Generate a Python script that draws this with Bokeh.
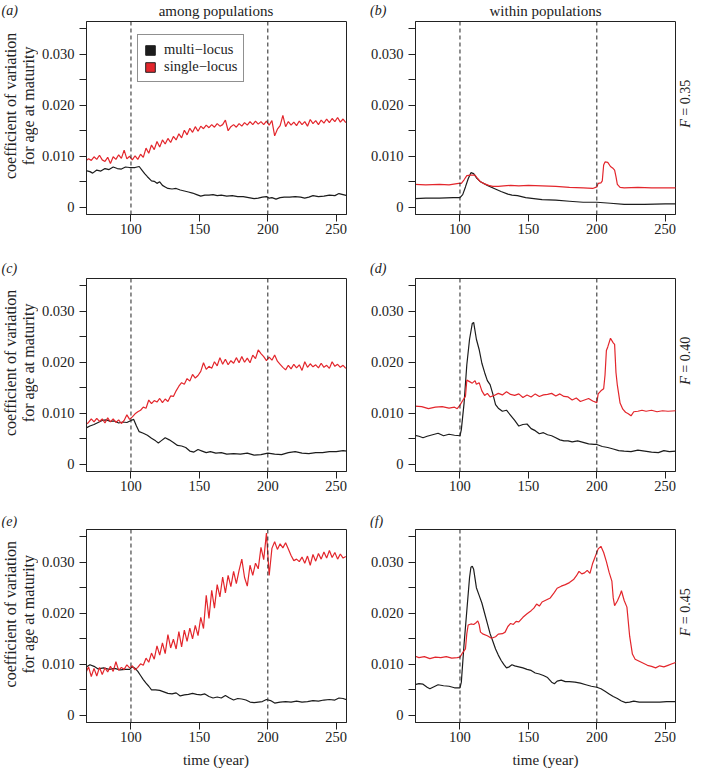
import numpy as np
from math import pi
from bokeh.plotting import figure
from bokeh.layouts import column, row
from bokeh.models import (Range1d, FixedTicker, Span, Label, Legend, LegendItem,
                          CustomJSTickFormatter)
from bokeh.embed import file_html
from bokeh.resources import INLINE
from bokeh.core.validation import silence
from bokeh.core.validation.warnings import MISSING_RENDERERS

silence(MISSING_RENDERERS, True)

# ---------------- data (coefficient of variation, in units of 0.001) ----------------
years_grid = list(range(67, 258, 2))   # sampling grid for the jagged single-locus series

# (a) among populations, F = 0.35
a_single = [9.1, 9.5, 9.2, 9.9, 9.4, 10.2, 9.3, 9.0, 9.8, 8.6,
            9.9, 9.4, 10.3, 9.6, 11.2, 9.5, 10.0, 9.3, 10.1, 9.4,
            10.4, 9.8, 11.6, 10.6, 12.2, 11.3, 12.9, 11.8, 13.2, 12.4,
            13.5, 12.7, 13.9, 13.2, 14.4, 13.6, 15.1, 14.2, 15.5, 14.7,
            15.8, 14.9, 15.9, 15.4, 16.1, 15.6, 16.2, 15.7, 16.4, 15.9,
            16.2, 17.1, 15.0, 15.8, 16.2, 15.7, 16.4, 15.9, 16.6, 16.1,
            16.8, 16.2, 16.9, 16.3, 16.8, 16.2, 16.9, 16.1, 17.0, 14.0,
            15.3, 16.0, 18.0, 15.8, 16.8, 16.1, 16.7, 16.0, 16.9, 16.2,
            16.8, 15.9, 17.2, 16.4, 17.0, 16.2, 17.1, 16.5, 17.3, 16.6,
            17.4, 16.8, 17.6, 16.7, 17.3, 16.6]
a_multi = [(67, 7.2), (70, 7.0), (72, 6.7), (75, 7.3), (78, 7.1), (81, 7.6), (84, 7.4),
           (87, 7.9), (90, 7.6), (93, 7.5), (96, 7.9), (99, 7.8), (103, 7.8), (106, 8.0),
           (108, 7.3), (110, 6.6), (112, 6.0), (115, 5.2), (117, 5.1), (119, 4.7), (121, 5.0),
           (123, 4.3), (125, 4.0), (127, 3.7), (130, 3.6), (133, 3.7), (136, 3.4), (139, 3.2),
           (142, 3.0), (145, 2.8), (148, 2.5), (151, 2.2), (154, 2.4), (157, 2.4), (160, 2.5),
           (163, 2.3), (166, 2.4), (170, 2.2), (174, 2.3), (178, 2.1), (182, 2.1), (186, 1.9),
           (190, 1.7), (193, 1.8), (196, 2.0), (199, 2.1), (201, 1.8), (203, 1.9), (206, 1.6),
           (209, 1.9), (212, 2.0), (216, 2.0), (220, 2.1), (224, 2.0), (227, 1.8), (230, 2.0),
           (233, 2.3), (237, 2.1), (241, 2.2), (245, 2.4), (249, 2.3), (252, 2.7), (255, 2.5),
           (258, 2.3)]

# (b) within populations, F = 0.35
b_single = [(67, 4.5), (75, 4.4), (85, 4.5), (92, 4.4), (99, 4.7), (101, 4.7), (103, 5.4),
            (105, 6.2), (108, 6.3), (111, 6.3), (113, 5.6), (115, 5.0), (118, 4.6), (121, 4.3),
            (124, 4.1), (128, 4.1), (132, 4.2), (137, 4.3), (143, 4.2), (150, 4.3), (160, 4.2),
            (170, 4.1), (180, 3.9), (190, 3.8), (197, 3.7), (200, 4.0), (201, 4.7), (203, 4.8),
            (204, 5.2), (205, 8.3), (206, 8.9), (208, 8.8), (210, 8.0), (212, 7.6), (213, 7.3),
            (214, 6.0), (215, 4.5), (217, 3.9), (220, 3.8), (230, 3.9), (240, 3.8), (250, 3.8),
            (258, 3.8)]
b_multi = [(67, 1.7), (75, 1.8), (85, 1.8), (95, 1.9), (100, 1.9), (102, 2.5), (104, 4.0),
           (106, 5.6), (108, 6.8), (110, 6.6), (112, 5.8), (115, 5.0), (120, 4.3), (125, 3.7),
           (130, 3.1), (135, 2.6), (138, 2.4), (142, 2.3), (148, 1.9), (160, 1.5), (170, 1.4),
           (180, 1.2), (190, 1.0), (200, 1.0), (210, 0.8), (220, 0.6), (235, 0.6), (250, 0.7),
           (258, 0.7)]

# (c) among populations, F = 0.40
c_single = [7.8, 8.2, 8.9, 8.3, 9.0, 8.4, 8.9, 8.1, 9.1, 8.3,
            8.9, 8.2, 8.7, 8.0, 8.6, 9.7, 8.8, 9.3, 9.9, 10.3,
            10.6, 11.2, 11.0, 12.6, 11.9, 12.5, 12.2, 12.9, 12.1, 12.8,
            12.3, 13.4, 13.3, 14.4, 15.3, 16.0, 15.7, 16.8, 16.3, 17.6,
            16.9, 17.4, 18.2, 19.9, 18.6, 19.2, 18.8, 20.1, 19.3, 20.9,
            19.6, 20.6, 19.5, 20.3, 19.8, 20.9, 19.9, 21.1, 20.0, 20.8,
            19.9, 21.4, 20.7, 22.4, 21.7, 21.1, 20.3, 21.0, 20.4, 21.4,
            20.2, 19.6, 19.0, 18.5, 19.4, 18.7, 19.6, 18.9, 19.5, 18.4,
            20.1, 19.0, 19.7, 19.1, 19.5, 18.9, 19.8, 19.0, 19.4, 18.8,
            20.1, 19.2, 19.6, 19.0, 19.4, 18.8]
c_multi = [(67, 7.1), (70, 7.5), (73, 7.8), (76, 8.2), (79, 8.6), (82, 8.7), (85, 8.4),
           (88, 8.5), (91, 8.1), (94, 8.3), (97, 8.2), (100, 8.6), (102, 8.8), (104, 7.5),
           (106, 6.4), (109, 6.1), (112, 5.7), (115, 5.1), (118, 4.6), (120, 4.2), (122, 4.6),
           (125, 5.2), (128, 4.8), (131, 4.3), (134, 3.7), (137, 3.6), (140, 3.3), (143, 2.6),
           (146, 2.4), (149, 2.9), (152, 2.6), (155, 2.3), (158, 2.5), (162, 2.2), (166, 2.3),
           (170, 2.0), (175, 2.1), (180, 2.0), (185, 2.2), (190, 1.8), (195, 1.9), (200, 2.2),
           (205, 2.0), (210, 1.9), (215, 2.3), (220, 2.5), (225, 2.2), (230, 2.1), (235, 2.3),
           (240, 2.3), (245, 2.5), (250, 2.5), (255, 2.7), (258, 2.6)]

# (d) within populations, F = 0.40
d_single = [(67, 11.4), (72, 11.3), (77, 10.9), (82, 11.2), (87, 11.3), (92, 11.0), (96, 11.2),
            (98, 10.9), (100, 11.6), (102, 12.5), (104, 13.3), (105, 16.5), (107, 16.2),
            (109, 15.9), (111, 16.4), (112, 15.7), (114, 16.0), (116, 14.4), (118, 13.5),
            (120, 13.9), (122, 13.2), (125, 13.5), (128, 13.9), (131, 13.6), (134, 14.2),
            (137, 13.7), (140, 13.5), (143, 13.8), (146, 13.1), (149, 13.6), (152, 13.2),
            (155, 13.8), (158, 13.3), (161, 13.6), (164, 13.7), (167, 13.9), (170, 13.4),
            (173, 13.8), (176, 13.3), (179, 13.2), (182, 12.6), (185, 13.0), (188, 12.3),
            (191, 12.6), (194, 12.9), (197, 12.4), (200, 12.1), (201, 13.8), (203, 14.4),
            (205, 14.8), (206, 17.5), (207, 22.3), (208, 23.0), (210, 24.7), (212, 23.8),
            (213, 23.5), (214, 18.0), (215, 15.5), (217, 12.0), (219, 10.8), (221, 10.2),
            (223, 9.9), (225, 9.5), (227, 10.3), (230, 10.4), (233, 10.6), (236, 10.4),
            (240, 10.6), (244, 10.3), (248, 10.5), (252, 10.4), (258, 10.5)]
d_multi = [(67, 5.7), (70, 5.5), (73, 5.2), (76, 5.5), (80, 5.8), (84, 6.1), (88, 5.6),
           (92, 5.9), (96, 5.7), (100, 5.6), (101, 6.8), (103, 12.0), (105, 19.5), (107, 24.5),
           (109, 27.6), (110, 27.8), (112, 24.5), (114, 22.5), (116, 19.8), (118, 18.0),
           (120, 16.4), (122, 15.6), (124, 13.8), (126, 11.7), (128, 11.0), (131, 10.4),
           (134, 10.6), (137, 9.6), (140, 8.6), (143, 7.5), (146, 7.8), (149, 7.9), (152, 7.0),
           (155, 6.6), (158, 6.0), (161, 6.2), (164, 5.8), (167, 5.6), (170, 5.2), (173, 4.8),
           (176, 4.6), (179, 4.6), (182, 4.4), (186, 4.6), (190, 4.3), (194, 4.0), (198, 3.9),
           (200, 3.9), (204, 3.5), (208, 3.3), (212, 3.0), (216, 2.7), (220, 2.6), (225, 2.5),
           (230, 2.8), (235, 2.6), (240, 2.4), (245, 2.3), (249, 2.7), (253, 2.5), (258, 2.6)]

# (e) among populations, F = 0.45
e_single = [8.3, 9.5, 7.6, 9.2, 7.7, 9.4, 8.0, 9.3, 8.5, 9.6,
            8.6, 10.5, 8.8, 9.4, 9.0, 9.9, 9.3, 9.7, 8.9, 9.4,
            10.1, 9.8, 11.2, 10.4, 12.2, 11.0, 13.6, 11.8, 14.2, 12.1,
            15.8, 13.2, 14.9, 13.0, 16.4, 13.4, 16.7, 14.5, 17.1, 15.0,
            17.6, 15.6, 19.2, 17.0, 23.5, 19.0, 24.5, 21.0, 25.6, 23.2,
            27.1, 24.0, 27.4, 25.2, 28.2, 25.8, 28.4, 30.6, 27.0, 25.3,
            29.4, 27.4, 29.8, 28.7, 32.9, 30.5, 35.7, 27.4, 32.7, 34.0,
            32.5, 33.6, 32.8, 33.8, 32.6, 31.3, 30.3, 30.6, 30.1, 31.0,
            29.8, 31.2, 29.4, 31.5, 30.2, 31.7, 30.6, 32.0, 30.8, 32.3,
            30.9, 31.9, 30.6, 31.6, 30.8, 31.1]
e_multi = [(67, 9.4), (70, 9.9), (73, 9.6), (76, 9.1), (80, 9.3), (84, 9.0), (88, 9.2),
           (92, 8.9), (96, 9.0), (99, 9.0), (101, 9.5), (103, 9.2), (105, 8.6), (107, 7.8),
           (109, 7.0), (111, 6.3), (113, 5.7), (115, 5.0), (118, 5.0), (121, 4.9), (124, 4.6),
           (127, 4.3), (130, 4.2), (133, 4.4), (136, 3.8), (139, 4.0), (142, 4.1), (145, 4.3),
           (148, 4.1), (151, 4.0), (154, 4.2), (157, 3.7), (160, 3.4), (163, 3.6), (166, 3.4),
           (169, 3.9), (172, 3.4), (175, 3.0), (178, 3.3), (181, 3.2), (184, 3.0), (187, 2.6),
           (190, 2.5), (193, 2.6), (196, 2.7), (199, 3.1), (202, 2.9), (205, 2.4), (209, 2.6),
           (213, 2.7), (217, 2.6), (221, 2.8), (225, 2.6), (229, 2.7), (233, 2.9), (237, 2.8),
           (241, 3.0), (245, 3.1), (249, 3.0), (252, 3.4), (255, 3.3), (258, 3.0)]

# (f) within populations, F = 0.45
f_single = [(67, 11.6), (70, 11.3), (74, 11.5), (78, 11.1), (82, 11.4), (86, 11.3), (90, 11.5),
            (94, 11.2), (98, 11.3), (100, 11.4), (102, 12.3), (104, 13.0), (105, 16.0),
            (106, 17.7), (108, 17.9), (110, 17.8), (112, 18.2), (113, 18.5), (114, 17.8),
            (115, 16.3), (117, 15.9), (120, 15.6), (123, 15.1), (126, 15.4), (128, 15.9),
            (131, 16.0), (133, 16.3), (135, 17.4), (137, 18.0), (139, 17.8), (141, 18.4),
            (143, 18.3), (146, 19.2), (149, 19.9), (152, 20.5), (154, 21.0), (156, 21.8),
            (158, 21.4), (160, 22.2), (163, 22.6), (166, 23.0), (169, 24.1), (171, 24.9),
            (174, 25.3), (177, 25.6), (180, 26.0), (183, 26.6), (185, 27.3), (187, 28.2),
            (189, 27.7), (191, 27.9), (193, 28.4), (195, 27.8), (197, 29.8), (199, 31.2),
            (201, 32.6), (203, 33.1), (205, 31.9), (207, 30.1), (209, 28.0), (211, 26.3),
            (212, 23.0), (213, 21.5), (215, 22.4), (217, 23.6), (218, 24.4), (220, 22.5),
            (222, 21.2), (224, 15.5), (226, 12.0), (228, 11.0), (231, 10.6), (234, 10.2),
            (237, 9.8), (240, 9.6), (243, 9.3), (246, 9.7), (249, 9.5), (252, 9.8), (255, 10.1),
            (258, 10.4)]
f_multi = [(67, 6.0), (70, 6.2), (73, 6.1), (76, 5.5), (78, 5.2), (81, 5.6), (84, 6.0),
           (88, 5.8), (92, 5.7), (96, 5.4), (100, 5.4), (101, 6.5), (103, 14.0), (105, 20.5),
           (107, 27.0), (108, 29.0), (109, 29.2), (110, 28.6), (112, 25.0), (114, 23.5),
           (116, 22.0), (118, 20.0), (120, 18.0), (122, 16.0), (124, 14.5), (126, 13.0),
           (128, 11.8), (130, 10.8), (132, 10.0), (134, 9.3), (136, 9.5), (138, 9.9), (140, 9.7),
           (143, 9.5), (146, 9.3), (149, 9.0), (152, 8.8), (155, 8.3), (158, 8.1), (161, 7.8),
           (164, 7.4), (167, 6.5), (169, 6.2), (171, 6.7), (174, 6.9), (177, 6.6), (180, 6.6),
           (184, 6.5), (188, 6.3), (192, 6.0), (196, 5.7), (200, 5.5), (203, 5.2), (206, 4.7),
           (209, 4.2), (212, 3.7), (215, 3.3), (218, 2.8), (221, 2.5), (224, 2.6), (227, 2.8),
           (231, 2.6), (236, 2.6), (241, 2.6), (246, 2.6), (251, 2.7), (258, 2.7)]

event_years = [100, 200]
x_ticks = [100, 150, 200, 250]
y_major = [0, 0.010, 0.020, 0.030]
y_minor = [0.005, 0.015, 0.025, 0.035]
col_titles = ["among populations", "within populations"]
panel_letters = [["(a)", "(b)"], ["(c)", "(d)"], ["(e)", "(f)"]]
f_values = ["0.35", "0.40", "0.45"]
legend_labels = ["multi\u2212locus", "single\u2212locus"]
ylabel_lines = ["coefficient of variation", "for age at maturity"]
xlabel = "time (year)"

# ---------------- style / layout ----------------
FONT = "Liberation Serif"
INK = "#222222"
BLACK = "#1c1c1c"
RED = "#e3262c"
X_RANGE = (67.5, 257.5)
Y_RANGE = (-0.0014, 0.0364)
NBSP = "\u00a0"

YLAB_W, FSTRIP_W = 38, 18
COLS = [dict(w=328, left=47, right=20), dict(w=310, left=49, right=1)]
ROWS = [dict(h=223, bottom=29), dict(h=223, bottom=29), dict(h=222, bottom=28)]
FRAME_TOP, FRAME_H = 1, 193
HEADERS = [dict(h=20, mid=10.0, title=True), dict(h=34, mid=25.0, title=False),
           dict(h=28, mid=20.5, title=False)]
FOOTER_H, FOOTER_MID = 18, 9.0
TOTAL_W = YLAB_W + COLS[0]["w"] + COLS[1]["w"] + FSTRIP_W
FRAME_CX = [YLAB_W + COLS[0]["left"] + (COLS[0]["w"] - COLS[0]["left"] - COLS[0]["right"]) / 2,
            YLAB_W + COLS[0]["w"] + COLS[1]["left"]
            + (COLS[1]["w"] - COLS[1]["left"] - COLS[1]["right"]) / 2]
LETTER_X = [1, 369.5]
YLAB_X = [9.8, 28.0]
F_X = 9.0


def strip(w, h):
    """A figure without axes whose frame is the whole canvas; units are pixels."""
    s = figure(width=w, height=h, x_range=Range1d(0, w), y_range=Range1d(h, 0),
               output_backend="svg", toolbar_location=None, tools="",
               x_axis_type=None, y_axis_type=None, min_border=0)
    s.outline_line_color = None
    s.background_fill_color = "white"
    s.border_fill_color = "white"
    return s


def txt(p, text, x, y, size="15px", align="left", angle=0.0, style="normal"):
    p.add_layout(Label(x=x, y=y, text=text, text_font=FONT, text_font_size=size,
                       text_align=align, text_baseline="middle", angle=angle,
                       text_color=INK, text_font_style=style))


def make_panel(r, c):
    rw, cl = ROWS[r], COLS[c]
    p = figure(width=cl["w"], height=rw["h"], x_range=Range1d(*X_RANGE),
               y_range=Range1d(*Y_RANGE), output_backend="svg", toolbar_location=None,
               tools="", min_border_left=cl["left"], min_border_right=cl["right"],
               min_border_top=FRAME_TOP, min_border_bottom=rw["bottom"])
    p.grid.visible = False
    p.outline_line_color = INK
    p.outline_line_width = 1
    p.background_fill_color = "white"
    p.border_fill_color = "white"

    p.xaxis.ticker = FixedTicker(ticks=x_ticks)
    p.yaxis.ticker = FixedTicker(ticks=y_major, minor_ticks=y_minor)
    p.yaxis.formatter = CustomJSTickFormatter(code="return tick == 0 ? '0' : tick.toFixed(3);")
    for ax in (p.xaxis[0], p.yaxis[0]):
        ax.axis_line_color = INK
        ax.major_tick_line_color = INK
        ax.minor_tick_line_color = INK
        ax.major_tick_in = 0
        ax.major_tick_out = 7
        ax.minor_tick_in = 0
        ax.minor_tick_out = 7
        ax.major_label_text_font = FONT
        ax.major_label_text_font_size = "14.5px"
        ax.major_label_text_color = INK
    p.xaxis[0].major_label_standoff = 2
    p.yaxis[0].major_label_standoff = 5

    for yr in event_years:
        p.add_layout(Span(location=yr, dimension="height", line_color=INK,
                          line_dash="4 3", line_width=1))
    return p


def series_xy(pairs):
    xs = [q[0] for q in pairs]
    ys = np.array([q[1] for q in pairs]) / 1000.0
    return xs, ys


singles = [[a_single, b_single], [c_single, d_single], [e_single, f_single]]
multis = [[a_multi, b_multi], [c_multi, d_multi], [e_multi, f_multi]]

rows_layout = []
for r in range(3):
    # header strip: panel letters (and column titles on the first row)
    hd = HEADERS[r]
    head = strip(TOTAL_W, hd["h"])
    for c in range(2):
        txt(head, panel_letters[r][c], LETTER_X[c], hd["mid"], size="14px", style="italic")
        if hd["title"]:
            txt(head, col_titles[c], FRAME_CX[c], hd["mid"], align="center")
    rows_layout.append(head)

    panels = []
    for c in range(2):
        p = make_panel(r, c)
        mx, my = series_xy(multis[r][c])
        p.line(mx, my, line_color=BLACK, line_width=1.2)
        s = singles[r][c]
        if isinstance(s[0], tuple):
            sx, sy = series_xy(s)
        else:
            sx, sy = years_grid, np.array(s) / 1000.0
        p.line(sx, sy, line_color=RED, line_width=1.2)
        panels.append(p)

    h = ROWS[r]["h"]
    cy = FRAME_TOP + FRAME_H / 2
    ylab = strip(YLAB_W, h)
    txt(ylab, ylabel_lines[0], YLAB_X[0], cy, size="16px", align="center", angle=pi / 2)
    txt(ylab, ylabel_lines[1], YLAB_X[1], cy, size="16px", align="center", angle=pi / 2)

    fst = strip(FSTRIP_W, h)
    split = cy + 15.4
    txt(fst, "F", F_X, split, size="14px", align="right", angle=pi / 2, style="italic")
    txt(fst, NBSP + "=" + NBSP + f_values[r], F_X, split, size="14px", align="left",
        angle=pi / 2)

    rows_layout.append(row(ylab, panels[0], panels[1], fst))

    if r == 0:
        # legend in panel (a), with filled-square keys (hidden proxy renderers)
        pa = panels[0]
        x0, y0 = a_multi[0][0], a_multi[0][1] / 1000.0
        k_multi = pa.quad(left=[x0], right=[x0], top=[y0], bottom=[y0],
                          fill_color=BLACK, line_color=INK, visible=False)
        k_single = pa.quad(left=[x0], right=[x0], top=[y0], bottom=[y0],
                           fill_color=RED, line_color=INK, visible=False)
        legend = Legend(items=[LegendItem(label=legend_labels[0], renderers=[k_multi]),
                               LegendItem(label=legend_labels[1], renderers=[k_single])],
                        location=(51, 132), padding=6, spacing=0, margin=0,
                        glyph_width=12, glyph_height=12, label_height=14, label_standoff=8,
                        label_text_font=FONT, label_text_font_size="14.5px",
                        label_text_color=INK, border_line_color=INK, border_line_width=1.2,
                        background_fill_color="white", background_fill_alpha=1.0)
        pa.add_layout(legend)

foot = strip(TOTAL_W, FOOTER_H)
for c in range(2):
    txt(foot, xlabel, FRAME_CX[c], FOOTER_MID, align="center")
rows_layout.append(foot)

layout = column(*rows_layout)

open("out.html", "w").write(file_html(layout, INLINE))
